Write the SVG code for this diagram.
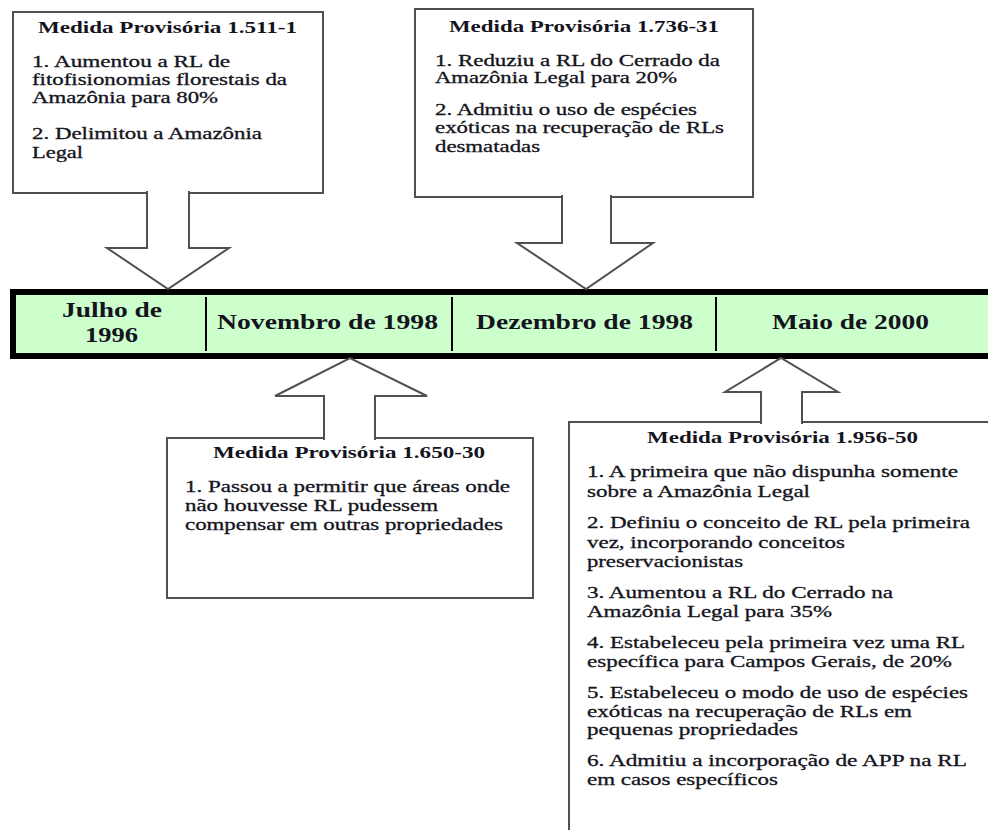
<svg xmlns="http://www.w3.org/2000/svg" width="988" height="830" viewBox="0 0 988 830">
<style>
  .box { fill: #ffffff; stroke: #505050; stroke-width: 2; }
  .arrow { fill: #ffffff; stroke: #505050; stroke-width: 2; stroke-linejoin: miter; }
  .title { font-family: "Liberation Serif", "Times New Roman", serif; font-weight: bold; font-size: 16px; fill: #141420; }
  .body { font-family: "Liberation Serif", "Times New Roman", serif; font-size: 16px; fill: #141420; stroke: #141420; stroke-width: 0.3; }
  .period { font-family: "Liberation Serif", "Times New Roman", serif; font-weight: bold; font-size: 20px; fill: #141420; }
  .bar { fill: #ccffcc; stroke: #000000; stroke-width: 6; }
  .sep { stroke: #000000; stroke-width: 2; }
</style>
<rect width="988" height="830" fill="#ffffff"/>

<g id="mp-1511-1">
  <rect class="box" x="13" y="12" width="310" height="181"/>
  <text class="title" x="38" y="33" textLength="259" lengthAdjust="spacingAndGlyphs">Medida Provisória 1.511-1</text>
  <text class="body" x="32" y="67" textLength="198" lengthAdjust="spacingAndGlyphs">1. Aumentou a RL de</text>
  <text class="body" x="32" y="85" textLength="255" lengthAdjust="spacingAndGlyphs">fitofisionomias florestais da</text>
  <text class="body" x="32" y="103" textLength="186" lengthAdjust="spacingAndGlyphs">Amazônia para 80%</text>
  <text class="body" x="32" y="139" textLength="230" lengthAdjust="spacingAndGlyphs">2. Delimitou a Amazônia</text>
  <text class="body" x="32" y="158" textLength="51" lengthAdjust="spacingAndGlyphs">Legal</text>
</g>

<g id="mp-1736-31">
  <rect class="box" x="415" y="9" width="338" height="188"/>
  <text class="title" x="449" y="32" textLength="270" lengthAdjust="spacingAndGlyphs">Medida Provisória 1.736-31</text>
  <text class="body" x="435" y="66" textLength="285" lengthAdjust="spacingAndGlyphs">1. Reduziu a RL do Cerrado da</text>
  <text class="body" x="435" y="83" textLength="242" lengthAdjust="spacingAndGlyphs">Amazônia Legal para 20%</text>
  <text class="body" x="435" y="115" textLength="262" lengthAdjust="spacingAndGlyphs">2. Admitiu o uso de espécies</text>
  <text class="body" x="435" y="133" textLength="289" lengthAdjust="spacingAndGlyphs">exóticas na recuperação de RLs</text>
  <text class="body" x="435" y="152" textLength="105" lengthAdjust="spacingAndGlyphs">desmatadas</text>
</g>

<g id="mp-1650-30">
  <rect class="box" x="167" y="438" width="366" height="160"/>
  <text class="title" x="213" y="458" textLength="272" lengthAdjust="spacingAndGlyphs">Medida Provisória 1.650-30</text>
  <text class="body" x="185" y="492" textLength="325" lengthAdjust="spacingAndGlyphs">1. Passou a permitir que áreas onde</text>
  <text class="body" x="185" y="511" textLength="253" lengthAdjust="spacingAndGlyphs">não houvesse RL pudessem</text>
  <text class="body" x="185" y="530" textLength="318" lengthAdjust="spacingAndGlyphs">compensar em outras propriedades</text>
</g>

<g id="mp-1956-50">
  <rect class="box" x="569" y="422" width="440" height="430"/>
  <text class="title" x="647" y="443" textLength="271" lengthAdjust="spacingAndGlyphs">Medida Provisória 1.956-50</text>
  <text class="body" x="587" y="477" textLength="371" lengthAdjust="spacingAndGlyphs">1. A primeira que não dispunha somente</text>
  <text class="body" x="587" y="497" textLength="223" lengthAdjust="spacingAndGlyphs">sobre a Amazônia Legal</text>
  <text class="body" x="587" y="528" textLength="383" lengthAdjust="spacingAndGlyphs">2. Definiu o conceito de RL pela primeira</text>
  <text class="body" x="587" y="548" textLength="258" lengthAdjust="spacingAndGlyphs">vez, incorporando conceitos</text>
  <text class="body" x="587" y="567" textLength="156" lengthAdjust="spacingAndGlyphs">preservacionistas</text>
  <text class="body" x="587" y="598" textLength="306" lengthAdjust="spacingAndGlyphs">3. Aumentou a RL do Cerrado na</text>
  <text class="body" x="587" y="617" textLength="245" lengthAdjust="spacingAndGlyphs">Amazônia Legal para 35%</text>
  <text class="body" x="587" y="648" textLength="378" lengthAdjust="spacingAndGlyphs">4. Estabeleceu pela primeira vez uma RL</text>
  <text class="body" x="587" y="667" textLength="365" lengthAdjust="spacingAndGlyphs">específica para Campos Gerais, de 20%</text>
  <text class="body" x="587" y="698" textLength="381" lengthAdjust="spacingAndGlyphs">5. Estabeleceu o modo de uso de espécies</text>
  <text class="body" x="587" y="717" textLength="325" lengthAdjust="spacingAndGlyphs">exóticas na recuperação de RLs em</text>
  <text class="body" x="587" y="735" textLength="211" lengthAdjust="spacingAndGlyphs">pequenas propriedades</text>
  <text class="body" x="587" y="766" textLength="380" lengthAdjust="spacingAndGlyphs">6. Admitiu a incorporação de APP na RL</text>
  <text class="body" x="587" y="785" textLength="191" lengthAdjust="spacingAndGlyphs">em casos específicos</text>
</g>

<g id="timeline">
  <rect class="bar" x="13" y="292" width="990" height="64"/>
  <line class="sep" x1="206" y1="297" x2="206" y2="351"/>
  <line class="sep" x1="452" y1="297" x2="452" y2="351"/>
  <line class="sep" x1="716" y1="297" x2="716" y2="351"/>
  <text class="period" x="62" y="317" textLength="100" lengthAdjust="spacingAndGlyphs">Julho de</text>
  <text class="period" x="85" y="342" textLength="53" lengthAdjust="spacingAndGlyphs">1996</text>
  <text class="period" x="217" y="329" textLength="221" lengthAdjust="spacingAndGlyphs">Novembro de 1998</text>
  <text class="period" x="476" y="329" textLength="217" lengthAdjust="spacingAndGlyphs">Dezembro de 1998</text>
  <text class="period" x="772" y="329" textLength="157" lengthAdjust="spacingAndGlyphs">Maio de 2000</text>
</g>

<g id="connectors">
  <path class="arrow" d="M147,191 V248 H107 L168,289 L229,248 H189 V191"/>
  <path class="arrow" d="M562,195 V243 H517 L586,289 L653,243 H611 V195"/>
  <path class="arrow" d="M324,440 V396 H275 L350,358 L427,396 H375 V440"/>
  <path class="arrow" d="M761,424 V392 H725 L781,358 L838,392 H802 V424"/>
</g>
</svg>
